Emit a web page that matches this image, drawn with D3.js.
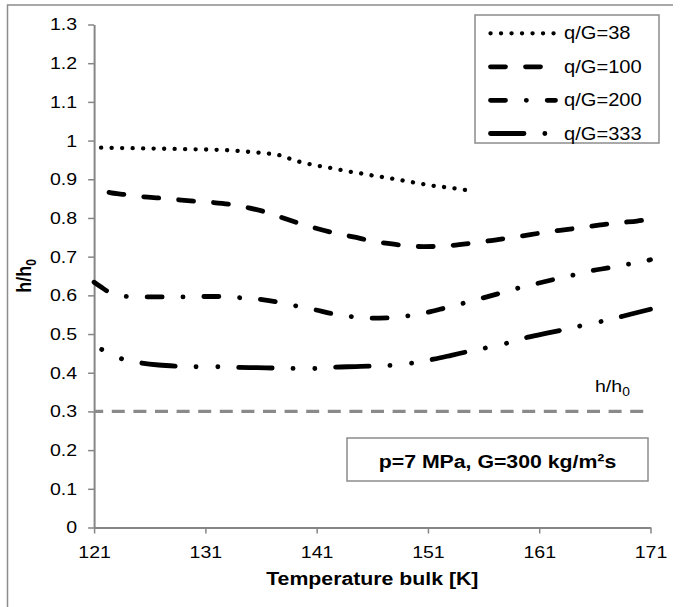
<!DOCTYPE html>
<html>
<head>
<meta charset="utf-8">
<script src="https://cdn.jsdelivr.net/npm/d3@7"></script>
<style>
  html, body { margin: 0; padding: 0; background: #fff; }
  svg { display: block; }
  text { font-family: Arial, "Liberation Sans", sans-serif; fill: #000; }
</style>
</head>
<body>
<svg id="chart" width="681" height="607"></svg>
<script>
// Heat transfer ratio h/h0 versus bulk temperature, p = 7 MPa, G = 300 kg/m²s

const xTicks = [121, 131, 141, 151, 161, 171];
const yTicks = [0, 0.1, 0.2, 0.3, 0.4, 0.5, 0.6, 0.7, 0.8, 0.9, 1, 1.1, 1.2, 1.3];

const seriesNames = ["q/G=38", "q/G=100", "q/G=200", "q/G=333"];

// q/G = 38
const tempQG38 = [121, 125, 129, 133, 134.9, 135.8, 136.8, 137.7, 138.6, 139.5, 140.4, 141.3, 142.3, 143.2, 144.1, 145.0, 146.0, 147.7, 149.5, 151.3, 153.3, 154.5];
const valQG38  = [0.982, 0.980, 0.978, 0.975, 0.971, 0.969, 0.966, 0.962, 0.953, 0.945, 0.939, 0.934, 0.929, 0.924, 0.919, 0.915, 0.910, 0.902, 0.893, 0.884, 0.877, 0.872];

// q/G = 100
const tempQG100 = [121, 121.5, 122.1, 123.9, 125.3, 127.1, 128.6, 130.2, 131.7, 133.5, 134.9, 136.7, 138, 139.7, 141.1, 142.8, 144.3, 145.9, 147.4, 149.1, 150.6, 152.3, 153.8, 155.5, 157, 158.7, 160.2, 161.8, 163.4, 165, 166.5, 168.2, 169.8, 171];
const valQG100  = [0.893, 0.879, 0.868, 0.860, 0.855, 0.851, 0.847, 0.843, 0.840, 0.834, 0.826, 0.813, 0.800, 0.784, 0.772, 0.760, 0.751, 0.741, 0.734, 0.728, 0.726, 0.727, 0.731, 0.737, 0.743, 0.750, 0.757, 0.764, 0.770, 0.776, 0.782, 0.788, 0.792, 0.797];

// q/G = 200
const tempQG200 = [121, 121.7, 122.3, 123, 124, 126, 129, 131, 132.5, 134, 135.8, 137.4, 139.1, 140.8, 142.5, 144.1, 145.8, 147.5, 149.2, 150.8, 152.5, 154.1, 155.8, 157.4, 159, 160.7, 162.3, 164, 165.6, 167.2, 168.9, 171];
const valQG200  = [0.634, 0.620, 0.609, 0.601, 0.597, 0.596, 0.596, 0.597, 0.597, 0.594, 0.590, 0.583, 0.573, 0.563, 0.552, 0.545, 0.541, 0.542, 0.547, 0.555, 0.567, 0.579, 0.592, 0.605, 0.618, 0.630, 0.641, 0.652, 0.663, 0.671, 0.680, 0.692];

// q/G = 333
const tempQG333 = [121, 121.7, 122.5, 123.4, 124.2, 125.1, 126.8, 128.5, 130.2, 132.2, 133.8, 135.6, 137.4, 139, 140.9, 142.6, 144.5, 146.5, 148.5, 150, 151.5, 153.1, 154.8, 156.5, 158.3, 160, 161.8, 163.5, 165, 166.8, 168.5, 170, 171];
const valQG333  = [0.469, 0.460, 0.449, 0.437, 0.431, 0.426, 0.420, 0.417, 0.4155, 0.4155, 0.414, 0.413, 0.412, 0.411, 0.411, 0.4145, 0.416, 0.418, 0.421, 0.427, 0.435, 0.445, 0.456, 0.466, 0.478, 0.492, 0.503, 0.513, 0.523, 0.534, 0.546, 0.557, 0.564];

// reference level
const refLevel = 0.3;
const refLabel = "h/h";
const boxLabel = "p=7 MPa, G=300 kg/m²s";
const xTitle = "Temperature bulk [K]";

const SX = 1.15; // horizontal text stretch

const svg = d3.select("#chart");

// outer frame (left and top edges)
svg.append("path")
  .attr("d", "M7.5,607 L7.5,5 L673,5")
  .attr("fill", "none")
  .attr("stroke", "#8c8c8c")
  .attr("stroke-width", 1.5);

const x = d3.scaleLinear().domain([121, 171]).range([94.1, 650.5]);
const y = d3.scaleLinear().domain([0, 1.3]).range([527.5, 24.5]);

const axisColor = "#868686";

function stretchTexts(sel) {
  sel.selectAll("text").each(function () {
    const t = d3.select(this);
    const tx = +t.attr("x") || 0;
    const ty = +t.attr("y") || 0;
    t.attr("x", 0).attr("y", 0)
     .attr("transform", `translate(${tx},${ty}) scale(${SX},1)`);
  });
}

// y axis
const gy = svg.append("g").attr("transform", `translate(${x(121)},0)`)
  .call(d3.axisLeft(y).tickValues(yTicks).tickSize(6).tickSizeOuter(0).tickPadding(11)
    .tickFormat(d => String(+d.toFixed(1))));
gy.select(".domain").attr("stroke", axisColor).attr("stroke-width", 2);
gy.selectAll(".tick line").attr("stroke", axisColor).attr("stroke-width", 1.5);
gy.selectAll("text").attr("font-size", 17).attr("fill", "#000")
  .attr("font-family", "Arial, 'Liberation Sans', sans-serif");
stretchTexts(gy);

// x axis
const gx = svg.append("g").attr("transform", `translate(0,${y(0)})`)
  .call(d3.axisBottom(x).tickValues(xTicks).tickSize(6).tickSizeOuter(0).tickPadding(12)
    .tickFormat(d3.format("d")));
gx.select(".domain").attr("stroke", axisColor).attr("stroke-width", 2);
gx.selectAll(".tick line").attr("stroke", axisColor).attr("stroke-width", 1.5);
gx.selectAll("text").attr("font-size", 17).attr("fill", "#000")
  .attr("font-family", "Arial, 'Liberation Sans', sans-serif");
stretchTexts(gx);

// axis titles
svg.append("text")
  .attr("transform", `translate(${(x(121) + x(171)) / 2},585) scale(${SX},1)`)
  .attr("text-anchor", "middle")
  .attr("font-size", 18.5).attr("font-weight", "bold")
  .text(xTitle);

const yt = svg.append("text")
  .attr("transform", `translate(31,${(y(0) + y(1.3)) / 2}) scale(${SX},1) rotate(-90)`)
  .attr("text-anchor", "middle")
  .attr("font-size", 18).attr("font-weight", "bold");
yt.append("tspan").text("h/h");
yt.append("tspan").attr("font-size", 12).attr("dy", 4).text("0");

// reference line at h/h0 = 0.3
svg.append("line")
  .attr("x1", x(121)).attr("x2", x(171))
  .attr("y1", y(refLevel)).attr("y2", y(refLevel))
  .attr("stroke", "#8a8a8a").attr("stroke-width", 3.2)
  .attr("stroke-dasharray", "13,8.6").attr("stroke-dashoffset", 3.9);

const rl = svg.append("text")
  .attr("transform", `translate(595,392) scale(${SX},1)`)
  .attr("font-size", 17);
rl.append("tspan").text(refLabel);
rl.append("tspan").attr("font-size", 12).attr("dy", 4).text("0");

// data series
const series = [
  { name: seriesNames[0], t: tempQG38,  v: valQG38,  w: 4.3, dash: "0.1,10.4", off: 3.5 },
  { name: seriesNames[1], t: tempQG100, v: valQG100, w: 4.8, dash: "15,20", off: 16.5 },
  { name: seriesNames[2], t: tempQG200, v: valQG200, w: 4.8, dash: "15,20.8,0.1,20.8", off: 0 },
  { name: seriesNames[3], t: tempQG333, v: valQG333, w: 4.8, dash: "33.5,20.8,0.1,21.7,0.1,20.8", off: 46 }
];

const line = d3.line()
  .x(d => x(d[0]))
  .y(d => y(d[1]))
  .curve(d3.curveMonotoneX);

svg.append("g").selectAll("path")
  .data(series)
  .join("path")
  .attr("d", s => line(s.t.map((t, i) => [t, s.v[i]])))
  .attr("fill", "none")
  .attr("stroke", "#000")
  .attr("stroke-width", s => s.w)
  .attr("stroke-linecap", "round")
  .attr("stroke-dasharray", s => s.dash)
  .attr("stroke-dashoffset", s => s.off);

// legend
const lg = svg.append("g");
lg.append("rect")
  .attr("x", 475).attr("y", 15).attr("width", 184).attr("height", 128)
  .attr("fill", "#fff").attr("stroke", "#8c8c8c").attr("stroke-width", 1.5);

const rowY = [33.3, 66.8, 100.3, 133.5];
series.forEach((s, i) => {
  lg.append("line")
    .attr("x1", 490.5).attr("x2", 555.5)
    .attr("y1", rowY[i]).attr("y2", rowY[i])
    .attr("stroke", "#000").attr("stroke-width", s.w)
    .attr("stroke-linecap", "round")
    .attr("stroke-dasharray", s.dash);
  lg.append("text")
    .attr("transform", `translate(564,${rowY[i] + 6}) scale(${SX},1)`)
    .attr("font-size", 17.5)
    .text(s.name);
});

// conditions box
svg.append("rect")
  .attr("x", 347).attr("y", 438).attr("width", 301).attr("height", 43)
  .attr("fill", "#fff").attr("stroke", "#8c8c8c").attr("stroke-width", 1.5);
svg.append("text")
  .attr("transform", `translate(497.5,468) scale(${SX},1)`)
  .attr("text-anchor", "middle")
  .attr("font-size", 18.5).attr("font-weight", "bold")
  .text(boxLabel);
</script>
</body>
</html>
